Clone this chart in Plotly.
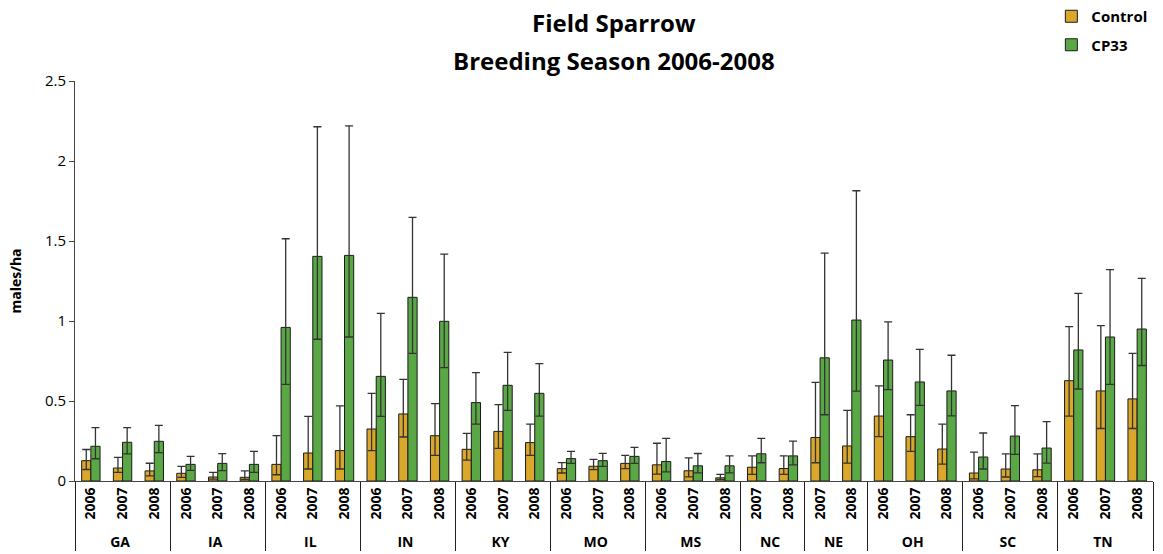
import plotly.graph_objects as go

# Categories: state / breeding season
states = ["GA", "GA", "GA", "IA", "IA", "IA", "IL", "IL", "IL", "IN", "IN", "IN",
          "KY", "KY", "KY", "MO", "MO", "MO", "MS", "MS", "MS", "NC", "NC", "NE", "NE",
          "OH", "OH", "OH", "SC", "SC", "SC", "TN", "TN", "TN"]
years = ["2006", "2007", "2008", "2006", "2007", "2008", "2006", "2007", "2008",
         "2006", "2007", "2008", "2006", "2007", "2008", "2006", "2007", "2008",
         "2006", "2007", "2008", "2007", "2008", "2007", "2008",
         "2006", "2007", "2008", "2006", "2007", "2008", "2006", "2007", "2008"]

# Control fields (males/ha) with upper/lower error
control = [0.127, 0.081, 0.063, 0.048, 0.025, 0.023, 0.104, 0.175, 0.19, 0.325, 0.419, 0.283,
           0.198, 0.31, 0.24, 0.077, 0.092, 0.11, 0.101, 0.064, 0.02, 0.086, 0.078, 0.272, 0.219,
           0.406, 0.277, 0.2, 0.05, 0.075, 0.07, 0.627, 0.563, 0.513]
control_plus = [0.07, 0.067, 0.048, 0.044, 0.029, 0.04, 0.18, 0.229, 0.28, 0.223, 0.216, 0.2,
                0.1, 0.167, 0.116, 0.038, 0.043, 0.05, 0.135, 0.081, 0.022, 0.071, 0.079, 0.344, 0.222,
                0.188, 0.137, 0.156, 0.13, 0.094, 0.1, 0.338, 0.408, 0.285]
control_minus = [0.055, 0.027, 0.031, 0.025, 0.013, 0.013, 0.065, 0.1, 0.115, 0.135, 0.144, 0.123,
                 0.067, 0.106, 0.08, 0.027, 0.021, 0.033, 0.058, 0.038, 0.01, 0.044, 0.036, 0.158, 0.107,
                 0.129, 0.092, 0.094, 0.037, 0.05, 0.043, 0.221, 0.235, 0.185]

# CP33 fields (males/ha) with upper/lower error
cp33 = [0.217, 0.242, 0.248, 0.104, 0.11, 0.104, 0.96, 1.404, 1.41, 0.654, 1.148, 0.998,
        0.49, 0.598, 0.548, 0.14, 0.127, 0.154, 0.122, 0.095, 0.095, 0.17, 0.157, 0.77, 1.006,
        0.756, 0.619, 0.563, 0.15, 0.281, 0.206, 0.819, 0.9, 0.95]
cp33_plus = [0.116, 0.091, 0.1, 0.05, 0.061, 0.081, 0.554, 0.81, 0.81, 0.394, 0.5, 0.42,
             0.187, 0.206, 0.185, 0.045, 0.046, 0.056, 0.144, 0.077, 0.062, 0.096, 0.092, 0.654, 0.808,
             0.238, 0.204, 0.223, 0.15, 0.19, 0.165, 0.354, 0.421, 0.316]
cp33_minus = [0.078, 0.073, 0.071, 0.037, 0.045, 0.05, 0.356, 0.518, 0.51, 0.25, 0.35, 0.29,
              0.134, 0.156, 0.142, 0.03, 0.035, 0.044, 0.065, 0.044, 0.044, 0.056, 0.056, 0.356, 0.444,
              0.185, 0.146, 0.156, 0.075, 0.115, 0.094, 0.244, 0.296, 0.228]

title_lines = ["Field Sparrow", "Breeding Season 2006-2008"]

FONT = "Open Sans"

fig = go.Figure()
for name, vals, plus, minus, color in [
    ("Control", control, control_plus, control_minus, "#DBA72A"),
    ("CP33", cp33, cp33_plus, cp33_minus, "#5AA845"),
]:
    fig.add_trace(go.Bar(
        name=name,
        legendgroup=name,
        x=[states, years],
        y=vals,
        marker=dict(color=color, line=dict(color="#1a1a1a", width=1)),
        error_y=dict(type="data", symmetric=False, array=plus, arrayminus=minus,
                     color="#333333", thickness=1.3, width=4),
    ))

# Two-line title, centred over the plotting area (plot spans 400 px vertically)
for i, line in enumerate(title_lines):
    fig.add_annotation(
        text=line, xref="paper", x=0.5, yref="paper", y=(459 - 38 * i) / 400,
        xanchor="center", yanchor="middle", showarrow=False,
        font=dict(family=FONT, size=24, weight="bold", color="black"),
    )

fig.update_layout(
    width=1163, height=554,
    margin=dict(l=75, r=10, t=81, b=73, autoexpand=False),
    paper_bgcolor="white", plot_bgcolor="white",
    barmode="group", bargap=0.42, bargroupgap=0,
    font=dict(family=FONT, color="black"),
    legend=dict(xref="container", yref="container", x=0.904, y=1.0,
                xanchor="left", yanchor="top",
                font=dict(family=FONT, size=15, weight="bold"),
                itemwidth=30, traceorder="grouped", tracegroupgap=6,
                bgcolor="rgba(0,0,0,0)"),
    showlegend=True,
)
fig.update_xaxes(
    type="multicategory",
    showline=True, linecolor="#444444", linewidth=1,
    ticks="", tickangle=-90,
    tickfont=dict(family=FONT, size=14, weight="bold", color="black"),
    showdividers=True, dividercolor="#222222", dividerwidth=1,
    showgrid=False,
)
fig.update_yaxes(
    range=[0, 2.5], tickvals=[0, 0.5, 1, 1.5, 2, 2.5],
    ticktext=["0", "0.5", "1", "1.5", "2", "2.5"],
    showline=True, linecolor="#444444", linewidth=1,
    ticks="outside", ticklen=5, tickcolor="#444444",
    tickfont=dict(family=FONT, size=15, color="black"),
    showgrid=False, zeroline=False,
    title=dict(text="males/ha", font=dict(family=FONT, size=14, weight="bold"), standoff=20),
)

fig.write_html("out.html")
